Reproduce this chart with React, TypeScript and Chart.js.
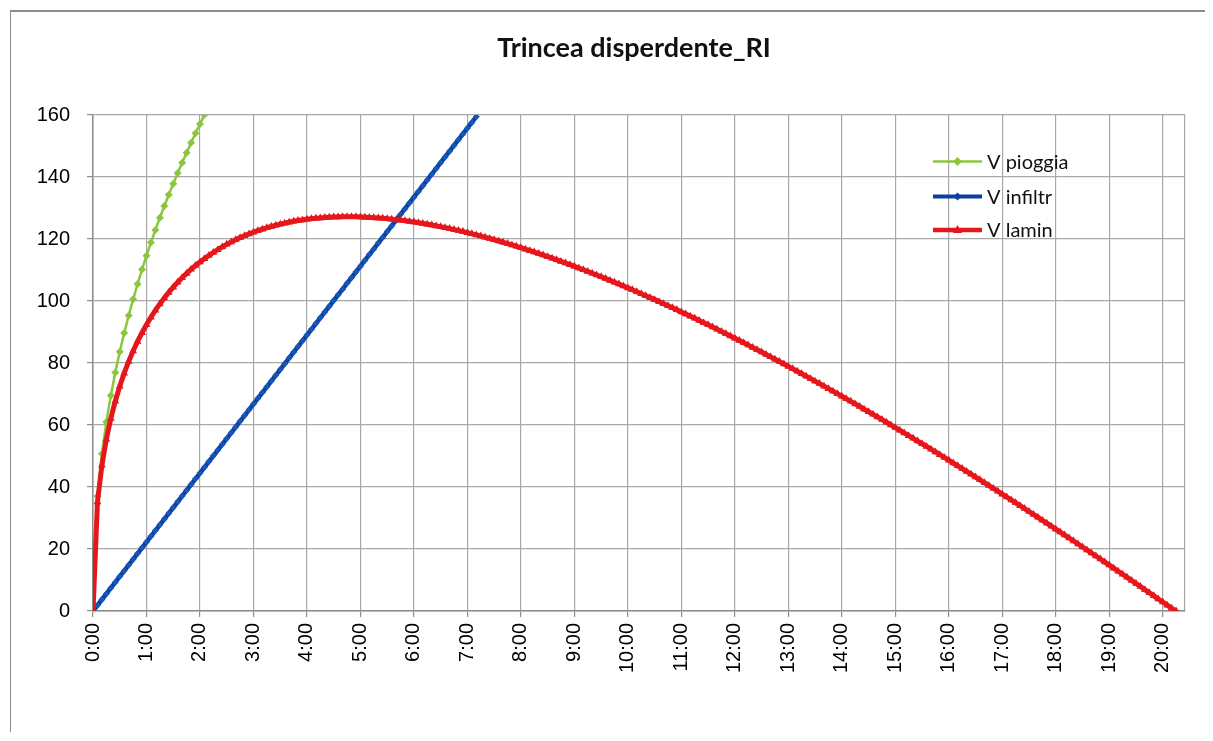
import React, { useEffect, useRef } from 'react';
import { Chart, registerables } from 'chart.js';

Chart.register(...registerables);

// time step between points (minutes)
const STEP_MINUTES = 5;
const X_MAX_MINUTES = 1225;

const chartTitle = 'Trincea disperdente_RI';
const hourLabels = [
  '0:00', '1:00', '2:00', '3:00', '4:00', '5:00', '6:00', '7:00', '8:00', '9:00', '10:00',
  '11:00', '12:00', '13:00', '14:00', '15:00', '16:00', '17:00', '18:00', '19:00', '20:00',
];
const yTicks = [0, 20, 40, 60, 80, 100, 120, 140, 160];
const seriesNames = ['V pioggia', 'V infiltr', 'V lamin'];

// V pioggia, every 5 minutes from 0:00
const vPioggia = [
  0, 37.0, 50.72, 60.99, 69.53, 76.95, 83.61, 89.69, 95.3, 100.55, 105.49, 110.16, 114.61,
  118.86, 122.94, 126.86, 130.64, 134.29, 137.83, 141.27, 144.6, 147.85, 151.01, 154.09, 157.09, 160.05,
];

// V infiltr, every 5 minutes from 0:00
const vInfiltr = [
  0, 1.85, 3.71, 5.56, 7.42, 9.27, 11.13, 12.98, 14.83, 16.69, 18.54, 20.4, 22.25,
  24.1, 25.96, 27.81, 29.67, 31.52, 33.38, 35.23, 37.08, 38.94, 40.79, 42.65, 44.5,
  46.35, 48.21, 50.06, 51.92, 53.77, 55.63, 57.48, 59.33, 61.19, 63.04, 64.9, 66.75,
  68.6, 70.46, 72.31, 74.17, 76.02, 77.88, 79.73, 81.58, 83.44, 85.29, 87.15, 89.0,
  90.85, 92.71, 94.56, 96.42, 98.27, 100.13, 101.98, 103.83, 105.69, 107.54, 109.4, 111.25,
  113.1, 114.96, 116.81, 118.67, 120.52, 122.38, 124.23, 126.08, 127.94, 129.79, 131.65, 133.5,
  135.35, 137.21, 139.06, 140.92, 142.77, 144.63, 146.48, 148.33, 150.19, 152.04, 153.9, 155.75,
  157.6, 159.46,
];

// V lamin, every 5 minutes from 0:00
const vLamin = [
  0, 35.15, 47.01, 55.43, 62.11, 67.68, 72.49, 76.71, 80.47, 83.86, 86.95, 89.76, 92.36,
  94.76, 96.98, 99.05, 100.97, 102.77, 104.46, 106.04, 107.52, 108.91, 110.22, 111.44, 112.59,
  113.66, 114.68, 115.65, 116.57, 117.44, 118.27, 119.04, 119.76, 120.44, 121.07, 121.64, 122.17,
  122.68, 123.16, 123.61, 124.03, 124.42, 124.78, 125.11, 125.42, 125.7, 125.94, 126.16, 126.35,
  126.52, 126.67, 126.8, 126.91, 127.0, 127.08, 127.13, 127.16, 127.18, 127.17, 127.14, 127.1,
  127.04, 126.97, 126.89, 126.79, 126.67, 126.54, 126.4, 126.24, 126.07, 125.89, 125.68, 125.47,
  125.24, 125.01, 124.76, 124.5, 124.23, 123.95, 123.66, 123.35, 123.04, 122.71, 122.38, 122.03,
  121.67, 121.31, 120.94, 120.55, 120.16, 119.76, 119.35, 118.94, 118.51, 118.08, 117.63, 117.18,
  116.72, 116.25, 115.78, 115.3, 114.81, 114.31, 113.81, 113.3, 112.78, 112.25, 111.72, 111.18,
  110.63, 110.08, 109.52, 108.96, 108.39, 107.82, 107.23, 106.65, 106.05, 105.45, 104.84, 104.23,
  103.61, 102.99, 102.36, 101.72, 101.08, 100.44, 99.79, 99.13, 98.47, 97.81, 97.14, 96.46,
  95.78, 95.09, 94.4, 93.71, 93.01, 92.31, 91.6, 90.89, 90.17, 89.45, 88.72, 87.99,
  87.25, 86.52, 85.77, 85.02, 84.27, 83.52, 82.76, 81.99, 81.23, 80.46, 79.68, 78.9,
  78.12, 77.33, 76.54, 75.75, 74.95, 74.15, 73.35, 72.54, 71.73, 70.92, 70.1, 69.28,
  68.45, 67.63, 66.8, 65.96, 65.12, 64.28, 63.44, 62.59, 61.74, 60.89, 60.03, 59.17,
  58.31, 57.44, 56.57, 55.7, 54.83, 53.95, 53.07, 52.19, 51.3, 50.42, 49.52, 48.63,
  47.73, 46.83, 45.93, 45.03, 44.12, 43.21, 42.3, 41.39, 40.47, 39.55, 38.63, 37.7,
  36.77, 35.84, 34.91, 33.98, 33.04, 32.1, 31.16, 30.21, 29.26, 28.32, 27.36, 26.41,
  25.45, 24.5, 23.54, 22.58, 21.61, 20.64, 19.68, 18.71, 17.73, 16.76, 15.78, 14.8,
  13.82, 12.83, 11.85, 10.86, 9.87, 8.88, 7.88, 6.89, 5.89, 4.89, 3.88, 2.88,
  1.88, 0.86, 0,
];

const GREEN = '#8cc63f';
const BLUE = '#0c3f9e';
const RED = '#e5171d';

const toPoints = (values: number[]) => values.map((v, i) => ({ x: i * STEP_MINUTES, y: v }));

const titleAndLegend = {
  id: 'titleAndLegend',
  afterDraw(chart: any) {
    const { ctx, chartArea, width } = chart;
    ctx.save();
    // chart title, centred on the whole chart
    ctx.fillStyle = '#111';
    ctx.font = 'bold 27px Lato, "Noto Sans", sans-serif';
    ctx.textAlign = 'center';
    ctx.textBaseline = 'middle';
    ctx.fillText(chartTitle, width / 2, 36);

    // legend inside the plot area
    const x0 = chartArea.right - 252;
    const x1 = chartArea.right - 203;
    const tx = chartArea.right - 198;
    const ys = [chartArea.top + 46.5, chartArea.top + 81.5, chartArea.top + 115];
    const colors = [GREEN, BLUE, RED];
    const widths = [2.5, 4, 4.5];
    seriesNames.forEach((name, i) => {
      const y = ys[i];
      ctx.strokeStyle = colors[i];
      ctx.fillStyle = colors[i];
      ctx.lineWidth = widths[i];
      ctx.beginPath();
      ctx.moveTo(x0, y);
      ctx.lineTo(x1, y);
      ctx.stroke();
      const cx = (x0 + x1) / 2;
      ctx.beginPath();
      if (i < 2) {
        const r = i === 0 ? 4.5 : 4;
        ctx.moveTo(cx, y - r);
        ctx.lineTo(cx + r, y);
        ctx.lineTo(cx, y + r);
        ctx.lineTo(cx - r, y);
      } else {
        ctx.moveTo(cx, y - 5);
        ctx.lineTo(cx + 4.5, y + 3);
        ctx.lineTo(cx - 4.5, y + 3);
      }
      ctx.closePath();
      ctx.fill();
      ctx.fillStyle = '#111';
      ctx.font = '20px Lato, "Noto Sans", sans-serif';
      ctx.textAlign = 'left';
      ctx.textBaseline = 'middle';
      ctx.fillText(name, tx, y + 1);
    });
    ctx.restore();
  },
};

export default function App() {
  const canvasRef = useRef<HTMLCanvasElement | null>(null);

  useEffect(() => {
    if (!canvasRef.current) return;
    const chart = new Chart(canvasRef.current, {
      type: 'line',
      data: {
        datasets: [
          {
            label: seriesNames[0],
            data: toPoints(vPioggia),
            borderColor: GREEN,
            backgroundColor: GREEN,
            borderWidth: 2.5,
            pointStyle: 'rectRot',
            pointRadius: 4,
            pointBorderWidth: 0,
            order: 2,
          },
          {
            label: seriesNames[1],
            data: toPoints(vInfiltr),
            borderColor: BLUE,
            backgroundColor: '#1656b8',
            borderWidth: 4.5,
            pointStyle: 'rectRot',
            pointRadius: 3.5,
            pointBorderWidth: 0,
            order: 1,
          },
          {
            label: seriesNames[2],
            data: toPoints(vLamin),
            borderColor: RED,
            backgroundColor: RED,
            borderWidth: 5,
            pointStyle: 'triangle',
            pointRadius: 4.5,
            pointBorderWidth: 0,
            order: 0,
          },
        ],
      },
      options: {
        animation: false,
        responsive: false,
        devicePixelRatio: 1,
        layout: { padding: { left: 0, right: 72, top: 103, bottom: 0 } },
        plugins: {
          legend: { display: false },
          tooltip: { enabled: false },
          title: { display: false },
        },
        scales: {
          x: {
            type: 'linear',
            min: 0,
            max: X_MAX_MINUTES,
            afterFit: (scale: any) => { scale.height = 141; },
            afterBuildTicks: (scale: any) => {
              scale.ticks = hourLabels.map((_, i) => ({ value: i * 60 })).concat([{ value: X_MAX_MINUTES }]);
            },
            ticks: {
              autoSkip: false,
              maxRotation: 90,
              minRotation: 90,
              padding: 6,
              color: '#000',
              font: { family: '"Liberation Sans", Arial, sans-serif', size: 20 },
              callback: (_v: any, index: number) => hourLabels[index] ?? '',
            },
            grid: {
              color: '#a8a8a8',
              lineWidth: 1.2,
              tickLength: 6,
              tickColor: (ctx: any) => (ctx.tick && ctx.tick.value === X_MAX_MINUTES ? 'rgba(0,0,0,0)' : '#8c8c8c'),
            },
            border: { color: '#8c8c8c', width: 1.5 },
          },
          y: {
            min: 0,
            max: 160,
            afterFit: (scale: any) => { scale.width = 82; },
            afterBuildTicks: (scale: any) => {
              scale.ticks = yTicks.map((v) => ({ value: v }));
            },
            ticks: {
              padding: 17,
              color: '#000',
              font: { family: '"Liberation Sans", Arial, sans-serif', size: 20 },
            },
            grid: { color: '#a8a8a8', lineWidth: 1.2, tickLength: 6, tickColor: '#8c8c8c' },
            border: { color: '#8c8c8c', width: 1.5 },
          },
        },
      },
      plugins: [titleAndLegend],
    });
    return () => chart.destroy();
  }, []);

  return (
    <div style={{ width: 1197, height: 724, overflow: 'hidden', position: 'relative', background: '#fff' }}>
      <div
        style={{
          position: 'absolute',
          left: 2,
          top: 2,
          width: 1300,
          height: 800,
          borderLeft: '1px solid #8c8c8c',
          borderTop: '2px solid #8c8c8c',
        }}
      >
        <canvas ref={canvasRef} width={1246} height={740} style={{ display: 'block' }} />
      </div>
    </div>
  );
}
